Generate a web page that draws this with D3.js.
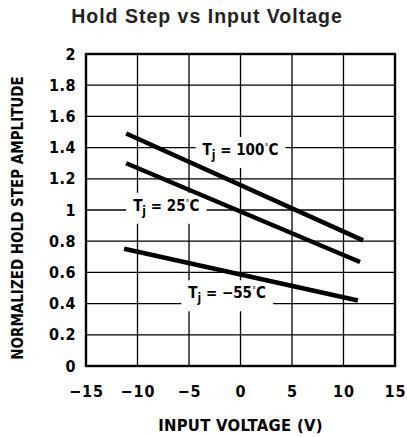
<!DOCTYPE html>
<html><head><meta charset="utf-8">
<script src="https://cdn.jsdelivr.net/npm/d3@7"></script>
<style>
html,body{margin:0;padding:0;background:#fff;}
svg{display:block;}
.cond{font-family:"Liberation Sans Narrow","DejaVu Sans Condensed","Arial Narrow",sans-serif;font-weight:bold;}
</style></head>
<body>
<svg id="chart" width="407" height="437"></svg>
<script>
// ---- data ----
const title = "Hold Step vs Input Voltage";
const xLabel = "INPUT VOLTAGE (V)";
const yLabel = "NORMALIZED HOLD STEP AMPLITUDE";
const xTicks = [-15, -10, -5, 0, 5, 10, 15];
const xTickLabels = ["\u221215", "\u221210", "\u22125", "0", "5", "10", "15"];
const yTicks = [0, 0.2, 0.4, 0.6, 0.8, 1, 1.2, 1.4, 1.6, 1.8, 2];
const yTickLabels = ["0", "0.2", "0.4", "0.6", "0.8", "1", "1.2", "1.4", "1.6", "1.8", "2"];
const seriesNames = ["100", "25", "\u221255"];
const series100X = [-11.1, 11.9];
const series100Y = [1.49, 0.805];
const series25X = [-11.1, 11.6];
const series25Y = [1.30, 0.667];
const seriesM55X = [-11.3, 11.4];
const seriesM55Y = [0.752, 0.42];
// label anchor points (data units)
const labelX = [0, -7.2, -1.3];
const labelY = [1.353, 0.995, 0.434];

// ---- layout ----
const svg = d3.select("#chart");
const x = d3.scaleLinear().domain([-15, 15]).range([86, 395]);
const y = d3.scaleLinear().domain([0, 2]).range([366, 54]);

svg.append("text").attr("x", 207).attr("y", 23)
  .attr("text-anchor", "middle")
  .style("font-family", "'Liberation Sans', Arial, sans-serif")
  .style("font-weight", "bold").style("font-size", "19.5px")
  .style("letter-spacing", "1px")
  .attr("fill", "#222").text(title);

// grid
const g = svg.append("g");
g.selectAll("line.vx").data(xTicks.slice(1, -1)).enter().append("line")
  .attr("x1", d => x(d)).attr("x2", d => x(d))
  .attr("y1", y(0)).attr("y2", y(2))
  .attr("stroke", "#000").attr("stroke-width", 1.3);
g.selectAll("line.hy").data(yTicks.slice(1, -1)).enter().append("line")
  .attr("y1", d => y(d)).attr("y2", d => y(d))
  .attr("x1", x(-15)).attr("x2", x(15))
  .attr("stroke", "#000").attr("stroke-width", 1.3);

// axes tick labels via d3 axes
const xAxis = d3.axisBottom(x).tickValues(xTicks)
  .tickFormat((d, i) => xTickLabels[i]).tickSize(0).tickPadding(0);
const xa = svg.append("g").attr("transform", `translate(0,${y(0)})`).call(xAxis);
xa.select(".domain").remove();
xa.selectAll("text").attr("class", "cond").attr("dy", null).attr("y", 31)
  .style("font-size", "16px").style("letter-spacing", "1px").attr("fill", "#000");

const yAxis = d3.axisLeft(y).tickValues(yTicks)
  .tickFormat((d, i) => yTickLabels[i]).tickSize(0).tickPadding(0);
const ya = svg.append("g").attr("transform", `translate(${x(-15) - 10},0)`).call(yAxis);
ya.select(".domain").remove();
ya.selectAll("text").attr("class", "cond")
  .style("font-size", "16px").style("letter-spacing", "0.5px").attr("fill", "#000");

// axis titles
svg.append("text").attr("class", "cond")
  .attr("x", x(0)).attr("y", 431).attr("text-anchor", "middle")
  .style("font-size", "16.5px").style("letter-spacing", "0.3px").attr("fill", "#000")
  .text(xLabel);
svg.append("text").attr("class", "cond")
  .attr("transform", `translate(23,${(y(0) + y(2)) / 2 + 8}) rotate(-90)`)
  .attr("text-anchor", "middle")
  .style("font-size", "15px").style("letter-spacing", "0px").attr("fill", "#000")
  .text(yLabel);

// labels with white boxes
const labels = svg.append("g");
seriesNames.forEach((nm, i) => {
  const lg = labels.append("g");
  const t = lg.append("text").attr("class", "cond")
    .attr("x", x(labelX[i])).attr("y", y(labelY[i]))
    .attr("text-anchor", "middle")
    .style("font-size", "15px").style("letter-spacing", "0px").attr("fill", "#000");
  t.append("tspan").text("T");
  t.append("tspan").attr("dy", 4).style("font-size", "12px").text("j");
  t.append("tspan").attr("dy", -4).text(" = " + nm);
  t.append("tspan").attr("dy", -5).style("font-size", "9px").style("font-weight", "normal").text("\u00b0");
  t.append("tspan").attr("dy", 5).text("C");
  const bb = t.node().getBBox();
  lg.insert("rect", "text").attr("x", bb.x - 7).attr("y", bb.y - 4)
    .attr("width", bb.width + 14).attr("height", bb.height + 10).attr("fill", "#fff");
});

// frame
svg.append("rect").attr("x", x(-15)).attr("y", y(2))
  .attr("width", x(15) - x(-15)).attr("height", y(0) - y(2))
  .attr("fill", "none").attr("stroke", "#000").attr("stroke-width", 2.4);

// series lines
const line = d3.line().x(d => x(d[0])).y(d => y(d[1]));
const allSeries = [
  d3.zip(series100X, series100Y),
  d3.zip(series25X, series25Y),
  d3.zip(seriesM55X, seriesM55Y)
];
svg.selectAll("path.s").data(allSeries).enter().append("path")
  .attr("d", line).attr("fill", "none").attr("stroke", "#000")
  .attr("stroke-width", 4.5);
</script>
</body></html>
